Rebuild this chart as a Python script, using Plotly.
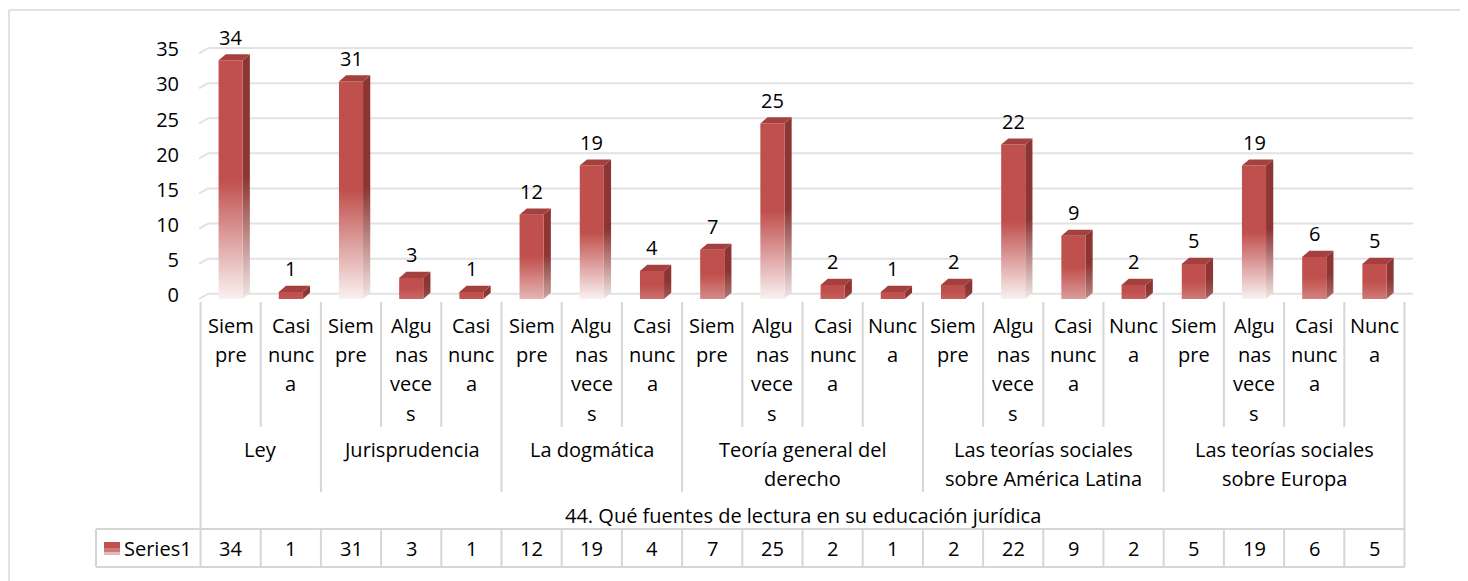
import textwrap
import plotly.graph_objects as go

# ---------------- data ----------------
values = [34, 1, 31, 3, 1, 12, 19, 4, 7, 25, 2, 1, 2, 22, 9, 2, 5, 19, 6, 5]
responses = ["Siempre", "Casi nunca",
             "Siempre", "Algunas veces", "Casi nunca",
             "Siempre", "Algunas veces", "Casi nunca",
             "Siempre", "Algunas veces", "Casi nunca", "Nunca",
             "Siempre", "Algunas veces", "Casi nunca", "Nunca",
             "Siempre", "Algunas veces", "Casi nunca", "Nunca"]
groups = ["Ley", "Jurisprudencia", "La dogmática", "Teoría general del derecho",
          "Las teorías sociales sobre América Latina", "Las teorías sociales sobre Europa"]
group_sizes = [2, 3, 3, 4, 4, 4]
question = "44. Qué fuentes de lectura en su educación jurídica"
series_name = "Series1"
y_ticks = [0, 5, 10, 15, 20, 25, 30, 35]

# ---------------- geometry / style ----------------
OFF = 8                           # page body margin in the browser
W, H = 1468 - OFF, 581 - OFF
PX0, COLW = 200.5 - OFF, 60.2     # left edge of first category column, column width (px)
L, R = 190 - OFF, 1420 - OFF      # plot area (px, figure coords)
T, B = 20 - OFF, 299 - OFF
PXV = 7.02                        # px per unit
n = len(values)
xr = [-0.5 + (L - PX0) / COLW, -0.5 + (R - PX0) / COLW]
yr = [0, (B - T) / PXV]

FONT = "Open Sans"
FS = 20
RED = "#C0504D"
SIDE = "#8C3532"
TOPC = "#A4403D"
GRID = "#E2E2E2"
LINEC = "#D6D6D6"


def px_x(p):          # p: reference-screenshot px
    return (p - OFF - L) / (R - L)


def px_y(p):
    return (B - (p - OFF)) / (B - T)


def bound_px(i):      # reference-screenshot px of column boundary
    return PX0 + OFF + i * COLW


def blend(c1, c2, f):
    a = [int(c1[k:k + 2], 16) for k in (1, 3, 5)]
    b = [int(c2[k:k + 2], 16) for k in (1, 3, 5)]
    return "#" + "".join(f"{round(a[j] + (b[j] - a[j]) * f):02X}" for j in range(3))


def chunk_wrap(label, size=4):
    out = []
    for w in label.split():
        out += [w[k:k + size] for k in range(0, len(w), size)]
    return out


fig = go.Figure()

hw = 0.2
dx, dy = 0.12, 0.88

# gridlines on the back wall
shapes = []
for t in y_ticks:
    shapes.append(dict(type="line", xref="x", yref="y", x0=-0.525, y0=t, x1=-0.375, y1=t + 0.75,
                       line=dict(color=GRID, width=2), layer="below"))
    shapes.append(dict(type="line", xref="x", yref="y", x0=-0.375, y0=t + 0.75, x1=19.64, y1=t + 0.75,
                       line=dict(color=GRID, width=2), layer="below"))

for i, v in enumerate(values):
    f = 0.92 * min(1.0, v / 19.0)
    front_bottom = blend(RED, "#FFFFFF", f)
    side_bottom = blend(SIDE, "#FFFFFF", f * 0.95)
    x0, x1 = i - hw, i + hw
    # side face
    fig.add_trace(go.Scatter(
        x=[x1, x1 + dx, x1 + dx, x1, x1], y=[0, dy, v + dy, v, 0],
        mode="lines", line=dict(width=0), fill="toself",
        fillgradient=dict(type="vertical", start=0, stop=v + dy,
                          colorscale=[[0, side_bottom], [0.5, SIDE], [1, SIDE]]),
        hoverinfo="skip", showlegend=False))
    # front face
    fig.add_trace(go.Scatter(
        x=[x0, x1, x1, x0, x0], y=[0, 0, v, v, 0],
        mode="lines", line=dict(width=0), fill="toself",
        fillgradient=dict(type="vertical", start=0, stop=v,
                          colorscale=[[0, front_bottom], [0.5, RED], [1, RED]]),
        hoverinfo="skip", showlegend=False))
    # top face
    fig.add_trace(go.Scatter(
        x=[x0, x0 + dx, x1 + dx, x1, x0], y=[v, v + dy, v + dy, v, v],
        mode="lines", line=dict(width=0), fill="toself", fillcolor=TOPC,
        hoverinfo="skip", showlegend=False))

annotations = []
# data labels
for i, v in enumerate(values):
    annotations.append(dict(x=i, y=v, xref="x", yref="y", text=str(v), showarrow=False,
                            yanchor="middle", yshift=23, font=dict(family=FONT, size=FS, color="#000")))

# level 1 category labels (wrapped like the original)
for i, lab in enumerate(responses):
    cx = px_x(bound_px(i) + COLW / 2)
    for k, part in enumerate(chunk_wrap(lab)):
        annotations.append(dict(x=cx, y=px_y(325 + k * 29.4), xref="paper", yref="paper", text=part,
                                showarrow=False, xanchor="center", yanchor="middle",
                                font=dict(family=FONT, size=FS, color="#000")))

# level 2 group labels
bounds = [0]
for s in group_sizes:
    bounds.append(bounds[-1] + s)
for g, lab in enumerate(groups):
    cx = px_x((bound_px(bounds[g]) + bound_px(bounds[g + 1])) / 2)
    for k, part in enumerate(textwrap.wrap(lab, 20)):
        annotations.append(dict(x=cx, y=px_y(449 + k * 29.4), xref="paper", yref="paper", text=part,
                                showarrow=False, xanchor="center", yanchor="middle",
                                font=dict(family=FONT, size=FS, color="#000")))

# level 3 label
annotations.append(dict(x=px_x((bound_px(0) + bound_px(n)) / 2), y=px_y(515), xref="paper", yref="paper",
                        text=question, showarrow=False, xanchor="center", yanchor="middle",
                        font=dict(family=FONT, size=FS, color="#000")))

# data table values
for i, v in enumerate(values):
    annotations.append(dict(x=px_x(bound_px(i) + COLW / 2), y=px_y(548), xref="paper", yref="paper",
                            text=str(v), showarrow=False, xanchor="center", yanchor="middle",
                            font=dict(family=FONT, size=FS, color="#000")))
annotations.append(dict(x=px_x(122), y=px_y(548), xref="paper", yref="paper", text=series_name,
                        showarrow=False, xanchor="left", yanchor="middle",
                        font=dict(family=FONT, size=FS, color="#000")))


def pline(xa, ya, xb, yb, color=LINEC, width=2):
    shapes.append(dict(type="line", xref="paper", yref="paper",
                       x0=px_x(xa), y0=px_y(ya), x1=px_x(xb), y1=px_y(yb),
                       line=dict(color=color, width=width), layer="above"))


# category separators
for i in range(n + 1):
    xp = bound_px(i)
    if i in (0, n):
        pline(xp, 302, xp, 567)
    elif i in bounds:
        pline(xp, 302, xp, 492)
        pline(xp, 529, xp, 567)
    else:
        pline(xp, 302, xp, 427)
        pline(xp, 529, xp, 567)
# table outline
pline(96, 529, bound_px(n), 529)
pline(96, 567, bound_px(n), 567)
pline(96, 529, 96, 567)
# chart border (top/left)
pline(9, 10, 1468, 10, color="#D9D9D9", width=1.5)
pline(9, 10, 9, 581, color="#D9D9D9", width=1.5)

# legend key
for (ya, yb, c) in [(542, 548, RED), (548, 552, "#D07A78"), (552, 555, "#E6B8B7")]:
    shapes.append(dict(type="rect", xref="paper", yref="paper",
                       x0=px_x(104), x1=px_x(120), y0=px_y(yb), y1=px_y(ya),
                       line=dict(width=0), fillcolor=c, layer="above"))

fig.update_layout(
    width=W, height=H,
    margin=dict(l=L, r=W - R, t=T, b=H - B, pad=0),
    paper_bgcolor="white", plot_bgcolor="white",
    showlegend=False,
    xaxis=dict(range=xr, showgrid=False, zeroline=False, showticklabels=False, showline=False, fixedrange=True),
    yaxis=dict(range=yr, showgrid=False, zeroline=False, showline=False, tickvals=y_ticks,
               ticks="", ticklabelshift=-4, ticklabelstandoff=10,
               tickfont=dict(family=FONT, size=FS, color="#000"), fixedrange=True),
    shapes=shapes,
    annotations=annotations,
)

fig.write_html("out.html")
